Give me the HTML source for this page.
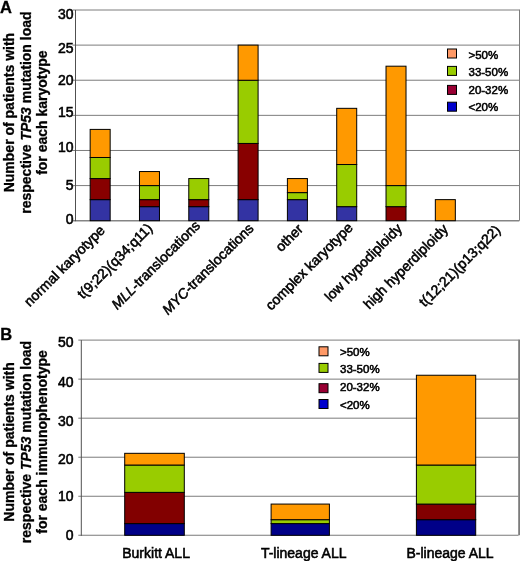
<!DOCTYPE html><html><head><meta charset="utf-8"><style>html,body{margin:0;padding:0;background:#fff;}svg{display:block;will-change:transform;}text{font-family:"Liberation Sans",sans-serif;fill:#000;stroke:#000;stroke-width:0.55px;}text.b{font-weight:bold;stroke-width:0.3px;}</style></head><body>
<svg width="520" height="561" viewBox="0 0 520 561">
<rect width="520" height="561" fill="#fff"/>
<line x1="72.5" y1="185.58" x2="519.3" y2="185.58" stroke="#7c7c7c" stroke-width="1"/>
<line x1="72.5" y1="150.47" x2="519.3" y2="150.47" stroke="#7c7c7c" stroke-width="1"/>
<line x1="72.5" y1="115.35" x2="519.3" y2="115.35" stroke="#7c7c7c" stroke-width="1"/>
<line x1="72.5" y1="80.23" x2="519.3" y2="80.23" stroke="#7c7c7c" stroke-width="1"/>
<line x1="72.5" y1="45.12" x2="519.3" y2="45.12" stroke="#7c7c7c" stroke-width="1"/>
<line x1="72.5" y1="10" x2="519.3" y2="10" stroke="#7c7c7c" stroke-width="1"/>
<line x1="519.5" y1="9.5" x2="519.5" y2="220.7" stroke="#7c7c7c" stroke-width="1"/>
<rect x="447.5" y="49" width="9" height="9" fill="#ff9966" stroke="#000" stroke-width="1"/>
<text x="468.5" y="58.5" font-size="11.5">&gt;50%</text>
<rect x="447.5" y="66.4" width="9" height="9" fill="#99cc00" stroke="#000" stroke-width="1"/>
<text x="468.5" y="75.6" font-size="11.5">33-50%</text>
<rect x="447.5" y="85.4" width="9" height="9" fill="#990033" stroke="#000" stroke-width="1"/>
<text x="468.5" y="93.9" font-size="11.5">20-32%</text>
<rect x="447.5" y="102.2" width="9" height="9" fill="#0000cc" stroke="#000" stroke-width="1"/>
<text x="468.5" y="111.1" font-size="11.5">&lt;20%</text>
<line x1="72.5" y1="220.7" x2="519.3" y2="220.7" stroke="#858585" stroke-width="1.6"/>
<rect x="90.16" y="199.63" width="20" height="21.07" fill="#3333a3" stroke="#000" stroke-width="1"/>
<rect x="90.16" y="178.56" width="20" height="21.07" fill="#880000" stroke="#000" stroke-width="1"/>
<rect x="90.16" y="157.49" width="20" height="21.07" fill="#99cc00" stroke="#000" stroke-width="1"/>
<rect x="90.16" y="129.4" width="20" height="28.09" fill="#ff9900" stroke="#000" stroke-width="1"/>
<rect x="139.47" y="206.65" width="20" height="14.05" fill="#3333a3" stroke="#000" stroke-width="1"/>
<rect x="139.47" y="199.63" width="20" height="7.02" fill="#880000" stroke="#000" stroke-width="1"/>
<rect x="139.47" y="185.58" width="20" height="14.05" fill="#99cc00" stroke="#000" stroke-width="1"/>
<rect x="139.47" y="171.54" width="20" height="14.05" fill="#ff9900" stroke="#000" stroke-width="1"/>
<rect x="188.78" y="206.65" width="20" height="14.05" fill="#3333a3" stroke="#000" stroke-width="1"/>
<rect x="188.78" y="199.63" width="20" height="7.02" fill="#880000" stroke="#000" stroke-width="1"/>
<rect x="188.78" y="178.56" width="20" height="21.07" fill="#99cc00" stroke="#000" stroke-width="1"/>
<rect x="238.09" y="199.63" width="20" height="21.07" fill="#3333a3" stroke="#000" stroke-width="1"/>
<rect x="238.09" y="143.44" width="20" height="56.19" fill="#880000" stroke="#000" stroke-width="1"/>
<rect x="238.09" y="80.23" width="20" height="63.21" fill="#99cc00" stroke="#000" stroke-width="1"/>
<rect x="238.09" y="45.12" width="20" height="35.12" fill="#ff9900" stroke="#000" stroke-width="1"/>
<rect x="287.4" y="199.63" width="20" height="21.07" fill="#3333a3" stroke="#000" stroke-width="1"/>
<rect x="287.4" y="192.61" width="20" height="7.02" fill="#99cc00" stroke="#000" stroke-width="1"/>
<rect x="287.4" y="178.56" width="20" height="14.05" fill="#ff9900" stroke="#000" stroke-width="1"/>
<rect x="336.71" y="206.65" width="20" height="14.05" fill="#3333a3" stroke="#000" stroke-width="1"/>
<rect x="336.71" y="164.51" width="20" height="42.14" fill="#99cc00" stroke="#000" stroke-width="1"/>
<rect x="336.71" y="108.33" width="20" height="56.19" fill="#ff9900" stroke="#000" stroke-width="1"/>
<rect x="386.02" y="206.65" width="20" height="14.05" fill="#880000" stroke="#000" stroke-width="1"/>
<rect x="386.02" y="185.58" width="20" height="21.07" fill="#99cc00" stroke="#000" stroke-width="1"/>
<rect x="386.02" y="66.19" width="20" height="119.4" fill="#ff9900" stroke="#000" stroke-width="1"/>
<rect x="435.33" y="199.63" width="20" height="21.07" fill="#ff9900" stroke="#000" stroke-width="1"/>
<line x1="75.5" y1="10" x2="75.5" y2="221.2" stroke="#505050" stroke-width="1"/>
<text x="73.6" y="223.9" font-size="14" text-anchor="end">0</text>
<text x="73.6" y="189.85" font-size="14" text-anchor="end">5</text>
<text x="73.6" y="151.5" font-size="14" text-anchor="end">10</text>
<text x="73.6" y="117.4" font-size="14" text-anchor="end">15</text>
<text x="73.6" y="84.6" font-size="14" text-anchor="end">20</text>
<text x="73.6" y="52.6" font-size="14" text-anchor="end">25</text>
<text x="73.6" y="18.6" font-size="14" text-anchor="end">30</text>
<text class="b" transform="translate(13.6,112.6) rotate(-90)" font-size="14" text-anchor="middle">Number of patients with</text>
<text class="b" transform="translate(30.6,112.6) rotate(-90)" font-size="14" text-anchor="middle">respective <tspan font-style="italic">TP53</tspan> mutation load</text>
<text class="b" transform="translate(47.1,112.6) rotate(-90)" font-size="14" text-anchor="middle">for each karyotype</text>
<text class="b" x="0" y="12.8" font-size="16.5">A</text>
<text transform="translate(105.76,231.3) rotate(-45)" font-size="14" text-anchor="end">normal karyotype</text>
<text transform="translate(153.37,229.2) rotate(-45)" font-size="14" text-anchor="end">t(9;22)(q34;q11)</text>
<text transform="translate(200.88,226.5) rotate(-45)" font-size="14" text-anchor="end"><tspan font-style="italic">MLL</tspan>-translocations</text>
<text transform="translate(254.39,229.2) rotate(-45)" font-size="14" text-anchor="end"><tspan font-style="italic">MYC</tspan>-translocations</text>
<text transform="translate(303.9,230) rotate(-45)" font-size="14" text-anchor="end">other</text>
<text transform="translate(353.71,228.5) rotate(-45)" font-size="14" text-anchor="end">complex karyotype</text>
<text transform="translate(403.02,229.5) rotate(-45)" font-size="14" text-anchor="end">low hypodiploidy</text>
<text transform="translate(448.93,230) rotate(-45)" font-size="14" text-anchor="end">high hyperdiploidy</text>
<text transform="translate(501.34,231) rotate(-45)" font-size="14" text-anchor="end">t(12;21)(p13;q22)</text>
<line x1="78.3" y1="496.26" x2="518.5" y2="496.26" stroke="#7c7c7c" stroke-width="1"/>
<line x1="78.3" y1="457.22" x2="518.5" y2="457.22" stroke="#7c7c7c" stroke-width="1"/>
<line x1="78.3" y1="418.18" x2="518.5" y2="418.18" stroke="#7c7c7c" stroke-width="1"/>
<line x1="78.3" y1="379.14" x2="518.5" y2="379.14" stroke="#7c7c7c" stroke-width="1"/>
<line x1="78.3" y1="340.1" x2="518.5" y2="340.1" stroke="#7c7c7c" stroke-width="1"/>
<line x1="519.1" y1="339.6" x2="519.1" y2="535.3" stroke="#7c7c7c" stroke-width="1.8"/>
<rect x="319" y="346.8" width="9" height="9" fill="#ff9966" stroke="#000" stroke-width="1"/>
<text x="340" y="356.3" font-size="11.5">&gt;50%</text>
<rect x="319" y="363.4" width="9" height="9" fill="#99cc00" stroke="#000" stroke-width="1"/>
<text x="340" y="373.2" font-size="11.5">33-50%</text>
<rect x="319" y="383.7" width="9" height="9" fill="#990033" stroke="#000" stroke-width="1"/>
<text x="340" y="391.3" font-size="11.5">20-32%</text>
<rect x="319" y="399.5" width="9" height="9" fill="#0000cc" stroke="#000" stroke-width="1"/>
<text x="340" y="408.6" font-size="11.5">&lt;20%</text>
<line x1="78.3" y1="535.3" x2="518.5" y2="535.3" stroke="#7a7a7a" stroke-width="1.1"/>
<rect x="124.7" y="523.59" width="59.6" height="11.71" fill="#000088" stroke="#000" stroke-width="1"/>
<rect x="124.7" y="492.36" width="59.6" height="31.23" fill="#820000" stroke="#000" stroke-width="1"/>
<rect x="124.7" y="465.03" width="59.6" height="27.33" fill="#99cc00" stroke="#000" stroke-width="1"/>
<rect x="124.7" y="453.32" width="59.6" height="11.71" fill="#ff9900" stroke="#000" stroke-width="1"/>
<rect x="271.1" y="523.59" width="58.3" height="11.71" fill="#000088" stroke="#000" stroke-width="1"/>
<rect x="271.1" y="519.68" width="58.3" height="3.9" fill="#99cc00" stroke="#000" stroke-width="1"/>
<rect x="271.1" y="504.07" width="58.3" height="15.62" fill="#ff9900" stroke="#000" stroke-width="1"/>
<rect x="416.4" y="519.68" width="59.3" height="15.62" fill="#000088" stroke="#000" stroke-width="1"/>
<rect x="416.4" y="504.07" width="59.3" height="15.62" fill="#820000" stroke="#000" stroke-width="1"/>
<rect x="416.4" y="465.03" width="59.3" height="39.04" fill="#99cc00" stroke="#000" stroke-width="1"/>
<rect x="416.4" y="375.24" width="59.3" height="89.79" fill="#ff9900" stroke="#000" stroke-width="1"/>
<line x1="81.3" y1="340.1" x2="81.3" y2="535.8" stroke="#505050" stroke-width="1"/>
<text x="73.6" y="539.9" font-size="14" text-anchor="end">0</text>
<text x="73.6" y="501.4" font-size="14" text-anchor="end">10</text>
<text x="73.6" y="464" font-size="14" text-anchor="end">20</text>
<text x="73.6" y="425.85" font-size="14" text-anchor="end">30</text>
<text x="73.6" y="386.5" font-size="14" text-anchor="end">40</text>
<text x="73.6" y="347.2" font-size="14" text-anchor="end">50</text>
<text class="b" transform="translate(13.6,442) rotate(-90)" font-size="14" text-anchor="middle">Number of patients with</text>
<text class="b" transform="translate(30.6,442) rotate(-90)" font-size="14" text-anchor="middle">respective <tspan font-style="italic">TP53</tspan> mutation load</text>
<text class="b" transform="translate(47.1,442) rotate(-90)" font-size="14" text-anchor="middle">for each immunophenotype</text>
<text class="b" x="0.3" y="339.5" font-size="16.5">B</text>
<text x="156.1" y="558" font-size="14" text-anchor="middle">Burkitt ALL</text>
<text x="303.7" y="558" font-size="14" text-anchor="middle">T-lineage ALL</text>
<text x="450" y="558" font-size="14" text-anchor="middle">B-lineage ALL</text>
</svg></body></html>
